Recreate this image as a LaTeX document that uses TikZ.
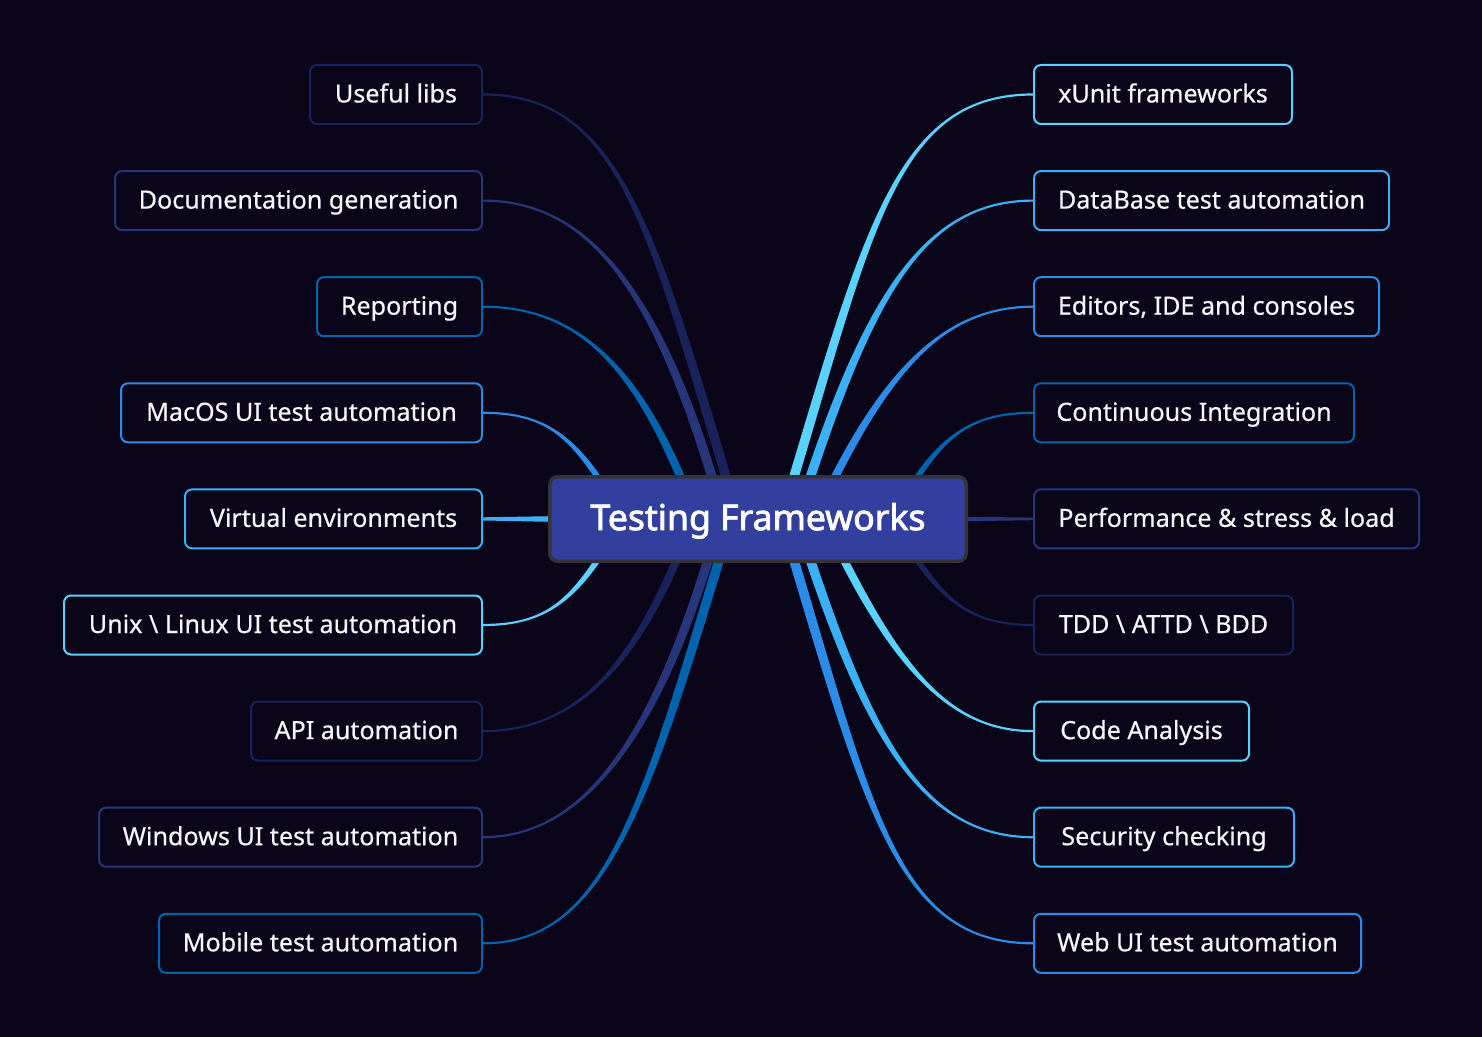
\documentclass[tikz,border=0pt]{standalone}
\usepackage{fontspec}
\setmainfont{Noto Sans}
\newfontfamily\leaffont{Noto Sans}[FakeBold=0.5]
\newfontfamily\topicfont{Noto Sans}[FakeBold=2.2]
\usetikzlibrary{calc}

\definecolor{bg}{HTML}{0A0519}
\definecolor{cnavyd}{HTML}{17235A}
\definecolor{cnavy}{HTML}{27367B}
\definecolor{cmid}{HTML}{0063AD}
\definecolor{cblue}{HTML}{2A8CE8}
\definecolor{csky}{HTML}{3AB0F6}
\definecolor{ccyan}{HTML}{5AD2FF}
\definecolor{rootfill}{HTML}{323F9E}
\definecolor{rootline}{HTML}{333338}
\definecolor{labeltext}{HTML}{F6F6FA}

\pgfdeclarelayer{backdrop}
\pgfdeclarelayer{links}
\pgfsetlayers{backdrop,links,main}

% tapered branch: colour, start node anchor, end coordinate,
% start control vector, end control vector, half-width offset at the end
\newcommand\taperlink[6]{%
  \fill[#1] ($(#2)+(0,-1.1)$) .. controls +(#4) and +(#5) .. ($(#3)+(#6)$)
    -- ($(#3)-(#6)$) .. controls +(#5) and +(#4) .. ($(#2)+(0,1.1)$) -- cycle;}

\tikzset{
  leaf/.style={draw, rounded corners=3.5pt, line width=1pt, fill=bg,
    text=labeltext, minimum height=29.5pt, inner sep=0pt,
    text height=9pt, text depth=1pt,
    font=\leaffont\fontsize{12.55}{15}\selectfont},
  lefty/.style={leaf, anchor=east},
  righty/.style={leaf, anchor=west},
  rootbox/.style={draw=rootline, line width=1.75pt, fill=rootfill,
    rounded corners=4pt, text=white, minimum width=208.25pt,
    minimum height=42.25pt, inner sep=0pt, text height=12.7pt, text depth=1.6pt,
    font=\topicfont\fontsize{17.8}{21}\selectfont},
}

\begin{document}
\begin{tikzpicture}[x=0.5pt, y=-0.5pt]
\begin{pgfonlayer}{backdrop}
  \fill[bg] (0,0) rectangle (1482,1037);
\end{pgfonlayer}
\useasboundingbox (0,0) rectangle (1482,1037);

% central topic
\node[rootbox] (root) at (758,519) {Testing Frameworks};

% left branches
\node[lefty, draw=cnavyd, minimum width=86pt]    (ul)  at (483,94.5)  {Useful libs};
\node[lefty, draw=cnavy,  minimum width=183.5pt] (doc) at (483,200.6) {Documentation generation};
\node[lefty, draw=cmid,   minimum width=82.5pt]  (rep) at (483,306.7) {Reporting};
\node[lefty, draw=cblue,  minimum width=180.5pt] (mac) at (483,412.8) {MacOS UI test automation};
\node[lefty, draw=csky,   minimum width=148.5pt] (ve)  at (483,518.9) {Virtual environments};
\node[lefty, draw=ccyan,  minimum width=209pt]   (nix) at (483,625)   {Unix \textbackslash\ Linux UI test automation};
\node[lefty, draw=cnavyd, minimum width=115.5pt] (api) at (483,731.1) {API automation};
\node[lefty, draw=cnavy,  minimum width=191.5pt] (win) at (483,837.2) {Windows UI test automation};
\node[lefty, draw=cmid,   minimum width=161.5pt] (mob) at (483,943.3) {Mobile test automation};

% right branches
\node[righty, draw=ccyan,  minimum width=129pt]   (xu)   at (1033,94.5)  {xUnit frameworks};
\node[righty, draw=csky,   minimum width=177.5pt] (db)   at (1033,200.6) {DataBase test automation};
\node[righty, draw=cblue,  minimum width=172.5pt] (ide)  at (1033,306.7) {Editors, IDE and consoles};
\node[righty, draw=cmid,   minimum width=160pt]   (ci)   at (1033,412.8) {Continuous Integration};
\node[righty, draw=cnavy,  minimum width=192.5pt] (perf) at (1033,518.9) {Performance \& stress \& load};
\node[righty, draw=cnavyd, minimum width=129.5pt] (tdd)  at (1033,625)   {TDD \textbackslash\ ATTD \textbackslash\ BDD};
\node[righty, draw=ccyan,  minimum width=107.5pt] (code) at (1033,731.1) {Code Analysis};
\node[righty, draw=csky,   minimum width=130pt]   (sec)  at (1033,837.2) {Security checking};
\node[righty, draw=cblue,  minimum width=163.5pt] (web)  at (1033,943.3) {Web UI test automation};

% branch ends, hidden under the central topic
\coordinate (e-ul)   at (730,490);
\coordinate (e-doc)  at (716,490);
\coordinate (e-rep)  at (684,485);
\coordinate (e-mac)  at (603,485);
\coordinate (e-nix)  at (603,552);
\coordinate (e-api)  at (680,552);
\coordinate (e-win)  at (712,547);
\coordinate (e-mob)  at (723,547);
\coordinate (e-xu)   at (790,490);
\coordinate (e-db)   at (806,490);
\coordinate (e-ide)  at (831,485);
\coordinate (e-ci)   at (912,485);
\coordinate (e-tdd)  at (912,552);
\coordinate (e-code) at (840,552);
\coordinate (e-sec)  at (806,547);
\coordinate (e-web)  at (790,547);

\begin{pgfonlayer}{links}
  % upper left
  \taperlink{cnavyd}{ul.east}{e-ul}{135,0}{-79.5,-265}{5,0}
  \taperlink{cnavy}{doc.east}{e-doc}{110,0}{-57,-191}{5,0}
  \taperlink{cmid}{rep.east}{e-rep}{100,0}{-46,-110}{4.5,0}
  \taperlink{cblue}{mac.east}{e-mac}{60,0}{-32.5,-50}{3.5,0}
  % lower left
  \taperlink{ccyan}{nix.east}{e-nix}{60,0}{-32.5,50}{-3.5,0}
  \taperlink{cnavyd}{api.east}{e-api}{95,0}{-46,110}{-4.5,0}
  \taperlink{cnavy}{win.east}{e-win}{100,0}{-57,191}{-5,0}
  \taperlink{cmid}{mob.east}{e-mob}{120,0}{-79.5,265}{-5,0}
  % upper right
  \taperlink{ccyan}{xu.west}{e-xu}{-135,0}{79.5,-265}{-5,0}
  \taperlink{csky}{db.west}{e-db}{-110,0}{63,-191}{-5,0}
  \taperlink{cblue}{ide.west}{e-ide}{-85,0}{60,-120}{-4.5,0}
  \taperlink{cmid}{ci.west}{e-ci}{-60,0}{32.5,-50}{-3.5,0}
  % lower right
  \taperlink{cnavyd}{tdd.west}{e-tdd}{-60,0}{32.5,50}{3.5,0}
  \taperlink{ccyan}{code.west}{e-code}{-80,0}{60,120}{4.5,0}
  \taperlink{csky}{sec.west}{e-sec}{-110,0}{63,191}{5,0}
  \taperlink{cblue}{web.west}{e-web}{-135,0}{79.5,265}{5,0}
  % straight side branches
  \fill[csky] ($(ve.east)+(0,-1.6)$) -- ($(root.west)+(2,-2.8)$)
    -- ($(root.west)+(2,2.8)$) -- ($(ve.east)+(0,1.6)$) -- cycle;
  \fill[cnavy] ($(perf.west)+(0,-1.3)$) -- ($(root.east)+(-2,-2.2)$)
    -- ($(root.east)+(-2,2.2)$) -- ($(perf.west)+(0,1.3)$) -- cycle;
\end{pgfonlayer}
\end{tikzpicture}
\end{document}
